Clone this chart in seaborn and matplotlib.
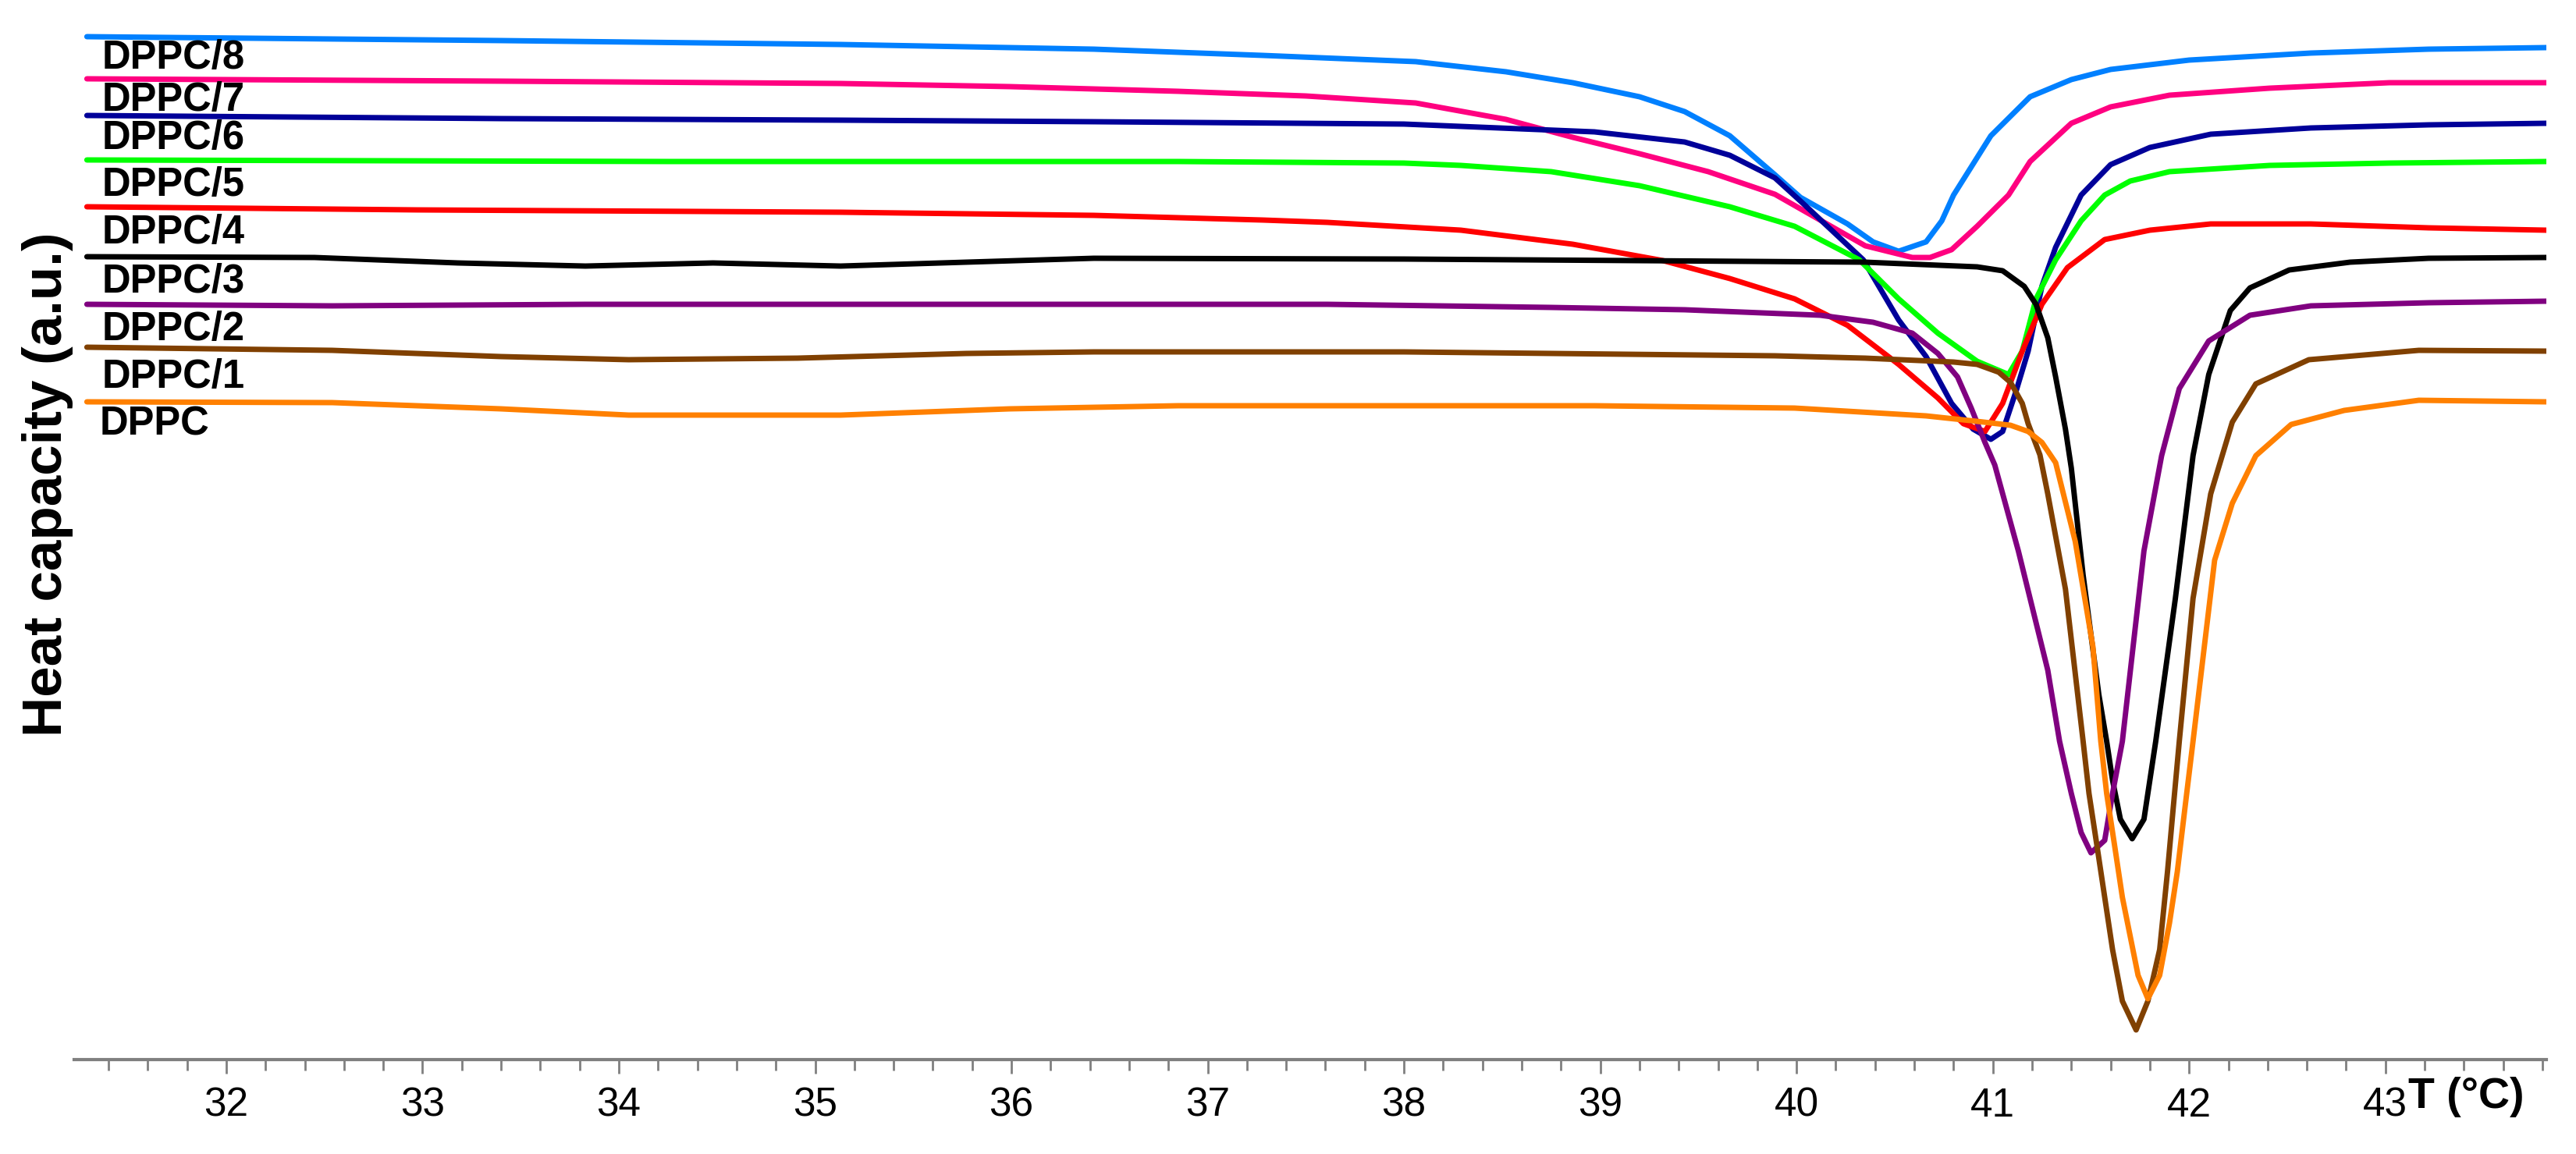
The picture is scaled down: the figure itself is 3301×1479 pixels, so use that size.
import pandas as pd
import matplotlib.pyplot as plt
import matplotlib.ticker as mticker
import seaborn as sns

# Temperature (deg C) and heat capacity (a.u., stacked)
t_dppc8 = [31.29, 33.40, 35.13, 36.42, 37.28, 38.06, 38.52, 38.86, 39.20, 39.43, 39.66, 39.89,
           40.02, 40.26, 40.39, 40.52, 40.66, 40.74, 40.80, 40.99, 41.19, 41.40, 41.60, 42.00,
           42.62, 43.22, 43.82]
cp_dppc8 = [13.11, 13.06, 13.01, 12.95, 12.87, 12.79, 12.66, 12.52, 12.34, 12.15, 11.84, 11.34,
            11.05, 10.71, 10.48, 10.36, 10.48, 10.75, 11.08, 11.84, 12.34, 12.56, 12.69, 12.81,
            12.90, 12.95, 12.97]

t_dppc7 = [31.29, 33.40, 35.13, 35.99, 36.85, 37.50, 38.06, 38.52, 38.86, 39.20, 39.55, 39.89,
           40.12, 40.35, 40.59, 40.68, 40.79, 40.92, 41.08, 41.19, 41.40, 41.60, 41.90, 42.41,
           43.02, 43.82]
cp_dppc7 = [12.57, 12.54, 12.51, 12.47, 12.41, 12.35, 12.26, 12.05, 11.82, 11.61, 11.38, 11.09,
            10.76, 10.43, 10.28, 10.28, 10.38, 10.68, 11.08, 11.51, 12.00, 12.21, 12.36, 12.45,
            12.52, 12.52]

t_dppc6 = [31.29, 33.40, 35.13, 36.42, 38.00, 38.97, 39.43, 39.66, 39.89, 40.03, 40.34, 40.52,
           40.66, 40.79, 40.90, 40.99, 41.05, 41.12, 41.18, 41.25, 41.32, 41.45, 41.60, 41.80,
           42.11, 42.62, 43.22, 43.82]
cp_dppc6 = [12.10, 12.06, 12.04, 12.02, 11.99, 11.89, 11.76, 11.59, 11.30, 10.98, 10.25, 9.48,
            9.01, 8.41, 8.08, 7.95, 8.05, 8.58, 9.08, 9.91, 10.41, 11.08, 11.47, 11.69,
            11.86, 11.94, 11.98, 12.00]

t_dppc5 = [31.29, 34.26, 36.85, 38.00, 38.29, 38.75, 39.20, 39.66, 39.99, 40.32, 40.52, 40.72,
           40.92, 41.08, 41.15, 41.22, 41.32, 41.45, 41.57, 41.70, 41.90, 42.41, 43.02, 43.82]
cp_dppc5 = [11.53, 11.51, 11.51, 11.49, 11.46, 11.38, 11.20, 10.93, 10.68, 10.25, 9.75, 9.31,
            8.95, 8.78, 9.08, 9.75, 10.25, 10.75, 11.08, 11.26, 11.38, 11.46, 11.49, 11.51]

t_dppc4 = [31.29, 32.97, 35.13, 36.42, 37.28, 37.61, 38.29, 38.86, 39.32, 39.66, 39.99, 40.26,
           40.52, 40.72, 40.85, 40.96, 41.05, 41.15, 41.25, 41.38, 41.57, 41.80, 42.11, 42.62,
           43.22, 43.82]
cp_dppc4 = [10.93, 10.89, 10.86, 10.82, 10.76, 10.73, 10.63, 10.45, 10.24, 10.01, 9.75, 9.41,
            8.91, 8.48, 8.15, 8.05, 8.41, 9.08, 9.68, 10.15, 10.51, 10.63, 10.71, 10.71,
            10.66, 10.63]

t_dppc3 = [31.29, 32.45, 33.18, 33.83, 34.48, 35.13, 35.77, 36.42, 38.00, 40.35, 40.92, 41.05,
           41.16, 41.22, 41.28, 41.32, 41.37, 41.40, 41.46, 41.54, 41.58, 41.61, 41.65, 41.71,
           41.77, 41.80, 41.83, 41.93, 42.02, 42.10, 42.21, 42.31, 42.51, 42.82, 43.22, 43.82]
cp_dppc3 = [10.29, 10.28, 10.21, 10.17, 10.21, 10.17, 10.22, 10.27, 10.26, 10.22, 10.16, 10.11,
            9.91, 9.68, 9.25, 8.75, 8.08, 7.58, 6.21, 4.68, 4.08, 3.58, 3.08, 2.83,
            3.08, 3.58, 4.08, 5.91, 7.74, 8.78, 9.60, 9.89, 10.12, 10.22, 10.27, 10.28]

t_dppc2 = [31.29, 32.54, 33.83, 37.61, 38.75, 39.43, 40.12, 40.39, 40.59, 40.72, 40.82, 40.89,
           40.96, 41.01, 41.13, 41.28, 41.34, 41.40, 41.45, 41.50, 41.57, 41.61, 41.66, 41.77,
           41.86, 41.95, 42.10, 42.31, 42.62, 43.22, 43.82]
cp_dppc2 = [9.68, 9.66, 9.68, 9.68, 9.64, 9.61, 9.54, 9.45, 9.31, 9.05, 8.75, 8.35,
            7.91, 7.62, 6.52, 4.99, 4.08, 3.41, 2.91, 2.65, 2.81, 3.41, 4.08, 6.52,
            7.74, 8.60, 9.21, 9.54, 9.66, 9.70, 9.72]

t_dppc1 = [31.29, 32.54, 33.40, 34.05, 34.91, 35.77, 36.42, 38.00, 39.89, 40.35, 40.80, 40.92,
           41.03, 41.09, 41.15, 41.18, 41.24, 41.28, 41.37, 41.46, 41.49, 41.53, 41.57, 41.61,
           41.66, 41.73, 41.79, 41.85, 41.89, 41.92, 41.95, 42.02, 42.11, 42.22, 42.34, 42.61,
           43.17, 43.82]
cp_dppc1 = [9.13, 9.09, 9.01, 8.97, 8.99, 9.05, 9.07, 9.07, 9.02, 8.99, 8.94, 8.91,
            8.81, 8.68, 8.41, 8.15, 7.75, 7.25, 6.03, 4.08, 3.41, 2.75, 2.08, 1.41,
            0.75, 0.38, 0.75, 1.41, 2.41, 3.25, 4.08, 5.91, 7.25, 8.17, 8.66, 8.97,
            9.09, 9.08]

t_dppc = [31.29, 32.54, 33.40, 34.05, 35.13, 35.99, 36.85, 38.00, 38.97, 39.99, 40.66, 40.92,
          41.09, 41.18, 41.25, 41.32, 41.42, 41.51, 41.55, 41.58, 41.62, 41.66, 41.70, 41.74,
          41.79, 41.85, 41.90, 41.94, 41.98, 42.02, 42.13, 42.22, 42.34, 42.52, 42.79, 43.17,
          43.82]
cp_dppc = [8.43, 8.42, 8.34, 8.26, 8.26, 8.34, 8.38, 8.38, 8.38, 8.35, 8.25, 8.18,
           8.13, 8.05, 7.91, 7.65, 6.64, 5.29, 4.08, 3.41, 2.75, 2.08, 1.58, 1.08,
           0.78, 1.08, 1.75, 2.41, 3.25, 4.08, 6.40, 7.13, 7.74, 8.14, 8.32, 8.45,
           8.43]

samples = ['DPPC/8', 'DPPC/7', 'DPPC/6', 'DPPC/5', 'DPPC/4',
           'DPPC/3', 'DPPC/2', 'DPPC/1', 'DPPC']
temps = [t_dppc8, t_dppc7, t_dppc6, t_dppc5, t_dppc4, t_dppc3, t_dppc2, t_dppc1, t_dppc]
caps = [cp_dppc8, cp_dppc7, cp_dppc6, cp_dppc5, cp_dppc4, cp_dppc3, cp_dppc2, cp_dppc1, cp_dppc]
colors = ['#0080FF', '#FF0080', '#000099', '#00FF00', '#FF0000',
          '#000000', '#800080', '#804000', '#FF8000']

# label baselines (a.u.) just under each trace
label_base = [12.70, 12.16, 11.67, 11.07, 10.46, 9.83, 9.22, 8.61, 8.01]

df = pd.concat([pd.DataFrame({'T': t, 'Cp': c, 'sample': s})
                for s, t, c in zip(samples, temps, caps)], ignore_index=True)

sns.set_style('white')
plt.rcParams['font.family'] = ['Liberation Sans', 'DejaVu Sans']
plt.rcParams['text.color'] = 'black'
plt.rcParams['xtick.labelcolor'] = 'black'

fig = plt.figure(figsize=(33.01, 14.79), dpi=100)
ax = fig.add_axes([95 / 3301, 121 / 1479, 3168 / 3301, 1358 / 1479])

sns.lineplot(data=df, x='T', y='Cp', hue='sample', hue_order=samples,
             palette=dict(zip(samples, colors)), estimator=None, sort=True,
             linewidth=5.0, legend=False, ax=ax)

for s, yb in zip(samples, label_base):
    xl = 31.353 if s == 'DPPC' else 31.365
    ax.text(xl, yb, s, fontsize=36.5, fontweight='bold', ha='left', va='baseline',
            color='black')

ax.set_xlim(31.225, 43.82)
ax.set_ylim(0, 13.58)
ax.xaxis.set_major_locator(mticker.MultipleLocator(1))
ax.xaxis.set_minor_locator(mticker.MultipleLocator(0.2))
ax.tick_params(axis='x', which='major', direction='out', length=13, width=2.0,
               color='#808080', labelcolor='black', labelsize=37, pad=12, bottom=True)
ax.tick_params(axis='x', which='minor', direction='out', length=10, width=2.0,
               color='#808080', bottom=True)
ax.set_yticks([])
ax.set_xlabel('')
ax.set_ylabel('')
for side in ['left', 'right', 'top']:
    ax.spines[side].set_visible(False)
ax.spines['bottom'].set_color('#808080')
ax.spines['bottom'].set_linewidth(3.0)

ax.text(43.117, -0.0457, 'T (°C)', transform=ax.get_xaxis_transform(),
        fontsize=40, fontweight='bold', ha='left', va='baseline', color='black')
fig.text(61 / 3301, 1 - 621 / 1479, 'Heat capacity (a.u.)', rotation=90,
         fontsize=51, fontweight='bold', ha='center', va='center', color='black')

fig.savefig('out.png', dpi=100)
